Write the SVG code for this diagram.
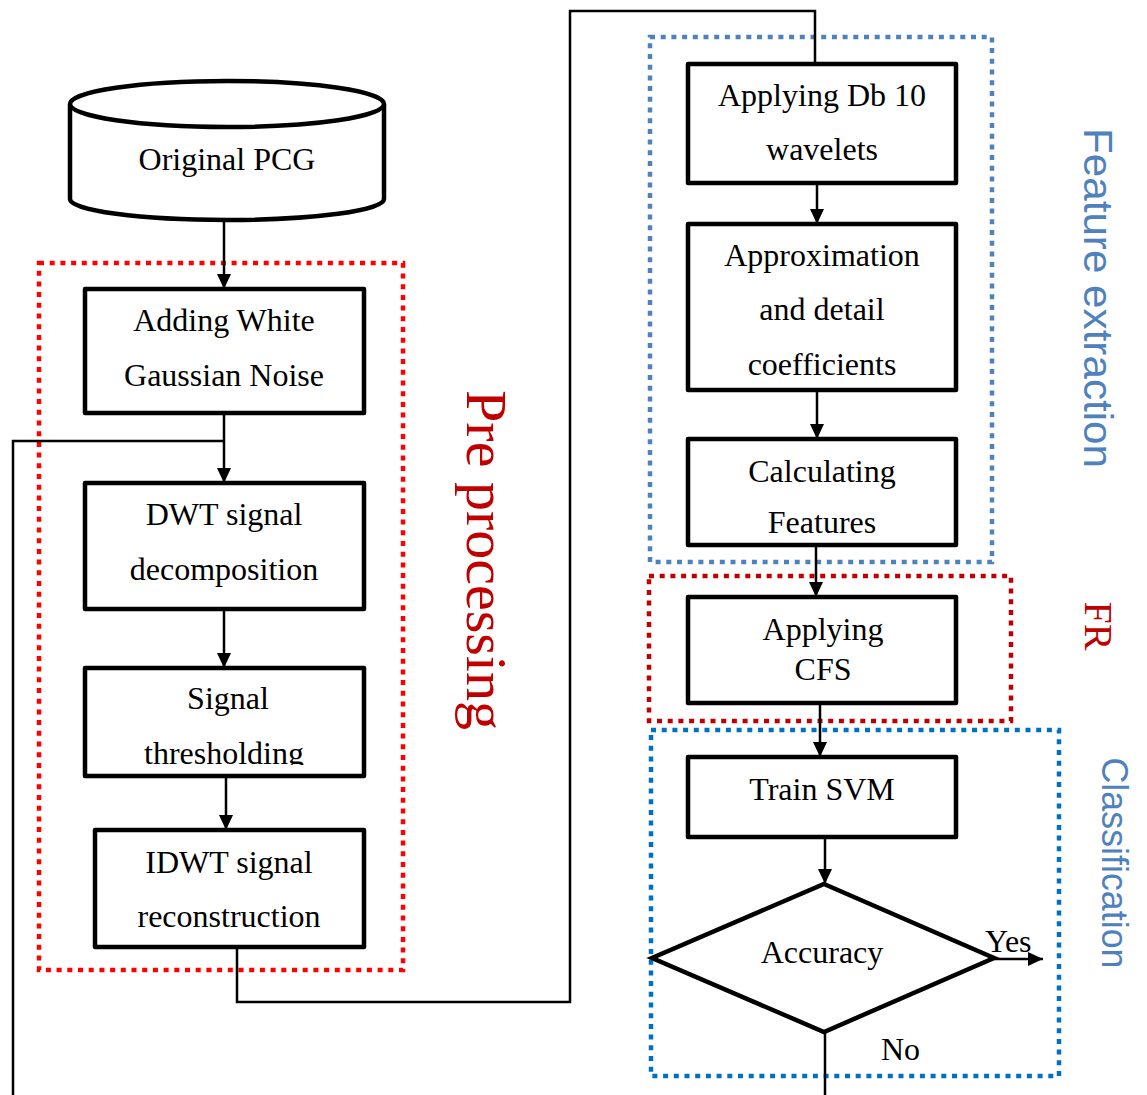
<svg xmlns="http://www.w3.org/2000/svg" width="1147" height="1095" viewBox="0 0 1147 1095">
<style>
.box{fill:#fff;stroke:#000;stroke-width:4.5;stroke-linejoin:round}
.t{font-family:"Liberation Serif","Times New Roman",serif;font-size:32px;fill:#000;text-anchor:middle}
.ts{font-family:"Liberation Serif","Times New Roman",serif;font-size:32px;fill:#000;text-anchor:start}
.c{fill:none;stroke:#000;stroke-width:2.5}
.grp{fill:none;stroke-width:4.5;stroke-dasharray:5 5.7}
</style>
<defs>
<marker id="ah" markerWidth="16" markerHeight="14" refX="15" refY="7" orient="auto" markerUnits="userSpaceOnUse">
<path d="M0,0 L15,7 L0,14 z" fill="#000"/>
</marker>
<clipPath id="clipThr"><rect x="80" y="660" width="290" height="105"/></clipPath>
</defs>
<rect width="1147" height="1095" fill="#fff"/>

<g id="groups">
<rect class="grp" x="39" y="263" width="364" height="707" stroke="#ff0000"/>
<rect class="grp" x="650" y="37" width="342" height="525" stroke="#4f81bd"/>
<rect class="grp" x="649" y="576" width="362" height="145" stroke="#c00000"/>
<rect class="grp" x="651" y="730" width="408" height="346" stroke="#0070c0"/>
</g>

<g id="labels">
<text transform="translate(467,560) rotate(90)" font-family="'Liberation Serif',serif" font-size="58" fill="#c00000" text-anchor="middle">Pre processing</text>
<text transform="translate(1084,298) rotate(90)" font-family="'Liberation Sans',Arial,sans-serif" font-size="41" fill="#4f81bd" text-anchor="middle" textLength="340" lengthAdjust="spacingAndGlyphs">Feature extraction</text>
<text transform="translate(1085,626) rotate(90)" font-family="'Liberation Serif',serif" font-size="40" fill="#c00000" text-anchor="middle">FR</text>
<text transform="translate(1102,863) rotate(90)" font-family="'Liberation Sans',Arial,sans-serif" font-size="37" fill="#4f81bd" text-anchor="middle" textLength="211" lengthAdjust="spacingAndGlyphs">Classification</text>
</g>

<g id="connectors">
<line class="c" x1="224" y1="221" x2="224" y2="289" marker-end="url(#ah)"/>
<line class="c" x1="224" y1="415" x2="224" y2="483" marker-end="url(#ah)"/>
<polyline class="c" points="224,441 13,441 13,1095"/>
<line class="c" x1="224" y1="611" x2="224" y2="668" marker-end="url(#ah)"/>
<line class="c" x1="226" y1="778" x2="226" y2="830" marker-end="url(#ah)"/>
<polyline class="c" points="237,947 237,1002 570,1002 570,11 815,11 815,64"/>
<line class="c" x1="817" y1="183" x2="817" y2="224" marker-end="url(#ah)"/>
<line class="c" x1="817" y1="390" x2="817" y2="439" marker-end="url(#ah)"/>
<line class="c" x1="816" y1="545" x2="816" y2="597" marker-end="url(#ah)"/>
<line class="c" x1="820" y1="703" x2="820" y2="757" marker-end="url(#ah)"/>
<line class="c" x1="825" y1="837" x2="825" y2="884" marker-end="url(#ah)"/>
<line class="c" x1="994" y1="959" x2="1043" y2="959" stroke-width="3" marker-end="url(#ah)"/>
<line class="c" x1="825" y1="1032" x2="825" y2="1095"/>
<text class="ts" x="985" y="952">Yes</text>
<text class="ts" x="881" y="1060">No</text>
</g>

<g id="original_pcg">
<path d="M70,104 L70,199 A157,21 0 0 0 384,199 L384,104" fill="#fff" stroke="#000" stroke-width="4.5"/>
<ellipse cx="227" cy="104" rx="157" ry="23" fill="#fff" stroke="#000" stroke-width="4.5"/>
<text class="t" x="227" y="170">Original PCG</text>
</g>

<g id="add_noise">
<rect class="box" x="85" y="289" width="279" height="124"/>
<text class="t" x="224" y="331">Adding White</text>
<text class="t" x="224" y="386">Gaussian Noise</text>
</g>

<g id="dwt">
<rect class="box" x="85" y="483" width="279" height="126"/>
<text class="t" x="224" y="525">DWT signal</text>
<text class="t" x="224" y="580">decomposition</text>
</g>

<g id="threshold">
<rect class="box" x="85" y="668" width="279" height="108"/>
<text class="t" x="228" y="709">Signal</text>
<text class="t" x="224" y="764" clip-path="url(#clipThr)">thresholding</text>
</g>

<g id="idwt">
<rect class="box" x="95" y="830" width="269" height="117"/>
<text class="t" x="229" y="873">IDWT signal</text>
<text class="t" x="229" y="927">reconstruction</text>
</g>

<g id="db10">
<rect class="box" x="688" y="64" width="268" height="119"/>
<text class="t" x="822" y="106">Applying Db 10</text>
<text class="t" x="822" y="160">wavelets</text>
</g>

<g id="coeffs">
<rect class="box" x="688" y="224" width="268" height="166"/>
<text class="t" x="822" y="266">Approximation</text>
<text class="t" x="822" y="320">and detail</text>
<text class="t" x="822" y="375">coefficients</text>
</g>

<g id="features">
<rect class="box" x="688" y="439" width="268" height="106"/>
<text class="t" x="822" y="482">Calculating</text>
<text class="t" x="822" y="533">Features</text>
</g>

<g id="cfs">
<rect class="box" x="688" y="597" width="268" height="106"/>
<text class="t" x="823" y="640">Applying</text>
<text class="t" x="823" y="680">CFS</text>
</g>

<g id="svm">
<rect class="box" x="688" y="757" width="268" height="80"/>
<text class="t" x="822" y="800">Train SVM</text>
</g>

<g id="accuracy">
<polygon points="824,884 994,958 824,1032 652,958" fill="#fff" stroke="#000" stroke-width="4.5" stroke-linejoin="miter"/>
<text class="t" x="822" y="963">Accuracy</text>
</g>
</svg>
